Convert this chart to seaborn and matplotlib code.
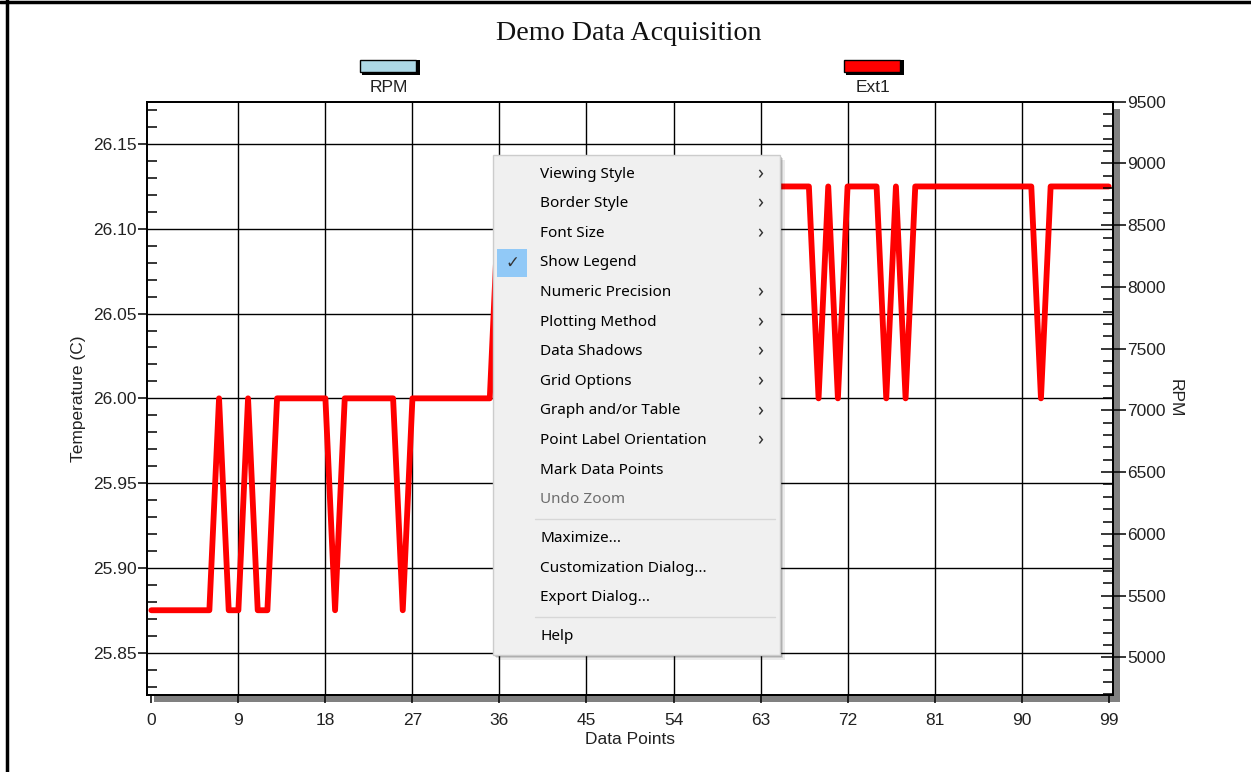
import matplotlib
matplotlib.use('Agg')
import matplotlib.pyplot as plt
import seaborn as sns
from matplotlib.patches import Rectangle
from matplotlib.lines import Line2D
from matplotlib.ticker import MultipleLocator

# === DATOS ===
puntos = list(range(100))
ext1 = [25.875, 25.875, 25.875, 25.875, 25.875, 25.875, 25.875, 26.0, 25.875, 25.875,
        26.0, 25.875, 25.875, 26.0, 26.0, 26.0, 26.0, 26.0, 26.0, 25.875,
        26.0, 26.0, 26.0, 26.0, 26.0, 26.0, 25.875, 26.0, 26.0, 26.0,
        26.0, 26.0, 26.0, 26.0, 26.0, 26.0, 26.125, 26.125, 26.125, 26.125,
        26.125, 26.125, 26.125, 26.125, 26.125, 26.125, 26.125, 26.125, 26.125, 26.125,
        26.125, 26.125, 26.125, 26.125, 26.125, 26.125, 26.125, 26.125, 26.125, 26.125,
        26.125, 26.125, 26.125, 26.125, 26.125, 26.125, 26.125, 26.125, 26.125, 26.0,
        26.125, 26.0, 26.125, 26.125, 26.125, 26.125, 26.0, 26.125, 26.0, 26.125,
        26.125, 26.125, 26.125, 26.125, 26.125, 26.125, 26.125, 26.125, 26.125, 26.125,
        26.125, 26.125, 26.0, 26.125, 26.125, 26.125, 26.125, 26.125, 26.125, 26.125]

xTicks = [0, 9, 18, 27, 36, 45, 54, 63, 72, 81, 90, 99]
tempTicks = [25.85, 25.90, 25.95, 26.00, 26.05, 26.10, 26.15]
rpmTicks = [5000, 5500, 6000, 6500, 7000, 7500, 8000, 8500, 9000, 9500]

series = ['RPM', 'Ext1']
coloresSeries = ['#ADD8E6', '#FF0000']

# menu contextual (texto, tiene submenu, habilitado)
menu = [('Viewing Style', True, True), ('Border Style', True, True), ('Font Size', True, True),
        ('Show Legend', False, True), ('Numeric Precision', True, True),
        ('Plotting Method', True, True), ('Data Shadows', True, True), ('Grid Options', True, True),
        ('Graph and/or Table', True, True), ('Point Label Orientation', True, True),
        ('Mark Data Points', False, True), ('Undo Zoom', False, False), ('-', False, True),
        ('Maximize...', False, True), ('Customization Dialog...', False, True),
        ('Export Dialog...', False, True), ('-', False, True), ('Help', False, True)]

# === FIGURA ===
sns.set_theme(style='white')
plt.rcParams['font.family'] = ['Liberation Sans', 'DejaVu Sans']

W, H = 1251, 772
fig = plt.figure(figsize=(W / 100, H / 100), dpi=100)
fig.patch.set_facecolor('white')

def fx(px):
    return px / W

def fy(py):
    return 1 - py / H

# sombra del area de grafico
fig.add_artist(Rectangle((fx(154), fy(702)), fx(1120) - fx(154), fy(109) - fy(702),
                         transform=fig.transFigure, facecolor='#808080', edgecolor='none', zorder=-1))

ax = fig.add_axes([fx(147), fy(695), fx(1113) - fx(147), fy(101.7) - fy(695)])
ax.set_facecolor('white')
sns.lineplot(x=puntos, y=ext1, ax=ax, color=coloresSeries[1], linewidth=4.2, zorder=3)

ax.set_xlim(-0.45, 99.45)
ax.set_ylim(25.825, 26.175)
ax.set_xticks(xTicks)
ax.set_yticks(tempTicks)
ax.set_yticklabels([f'{t:.2f}' for t in tempTicks])
ax.yaxis.set_minor_locator(MultipleLocator(0.01))
ax.grid(True, which='major', color='black', linewidth=1.0)
ax.xaxis.get_gridlines()[0].set_visible(False)
ax.xaxis.get_gridlines()[-1].set_visible(False)
for s in ax.spines.values():
    s.set_color('black')
    s.set_linewidth(1.3)
ax.tick_params(axis='y', which='major', direction='out', length=6.5, width=1.1, color='black',
               labelsize=12.5, pad=1, labelcolor='#222222')
ax.tick_params(axis='y', which='minor', direction='in', length=7, width=1.1, color='black', left=True)
ax.tick_params(axis='x', which='major', direction='out', length=6, width=1.1, color='black',
               labelsize=12.5, pad=7, labelcolor='#222222', bottom=True)
ax.set_xlabel('Data Points', fontsize=12.5, labelpad=3, color='#222222')
ax.set_ylabel('Temperature (C)', fontsize=12.5, labelpad=5, color='#222222')

ax2 = ax.twinx()
ax2.set_ylim(4695, 9500)
ax2.set_yticks(rpmTicks)
ax2.yaxis.set_minor_locator(MultipleLocator(100))
ax2.grid(False)
ax2.tick_params(axis='y', which='major', direction='inout', length=18, width=1.1, color='black',
                labelsize=12.5, pad=1, labelcolor='#222222', right=True)
ax2.tick_params(axis='y', which='minor', direction='in', length=7, width=1.1, color='black', right=True)
ax2.set_ylabel('RPM', fontsize=12.5, rotation=270, labelpad=12, color='#222222')
for s in ax2.spines.values():
    s.set_color('black')
    s.set_linewidth(1.3)

# titulo
fig.text(fx(629), fy(33), 'Demo Data Acquisition', ha='center', va='center',
         fontsize=20.2, family=['Liberation Serif', 'DejaVu Serif'], color='#111111')

# leyenda
for nombre, color, cx in zip(series, coloresSeries, [389, 873]):
    fig.add_artist(Rectangle((fx(cx - 27), fy(75)), fx(58), fy(60) - fy(75), transform=fig.transFigure,
                             facecolor='black', edgecolor='none'))
    fig.add_artist(Rectangle((fx(cx - 29), fy(72)), fx(56), fy(60) - fy(72), transform=fig.transFigure,
                             facecolor=color, edgecolor='black', linewidth=1.0))
    fig.text(fx(cx), fy(88), nombre, ha='center', va='center', fontsize=12.5, color='#222222')

# borde de la ventana
fig.add_artist(Line2D([0, 1], [fy(1.5), fy(1.5)], transform=fig.transFigure, color='black', linewidth=2.5))
fig.add_artist(Line2D([fx(6.5), fx(6.5)], [0, 1], transform=fig.transFigure, color='black', linewidth=2.5))

# menu contextual
mx0, my0, mx1, my1 = 493, 155, 780, 655
for off, alpha in [(5, 0.08), (3, 0.12), (1.5, 0.18)]:
    fig.add_artist(Rectangle((fx(mx0 + off), fy(my1 + off)), fx(mx1 - mx0), fy(my0) - fy(my1),
                             transform=fig.transFigure, facecolor='black', alpha=alpha,
                             edgecolor='none', zorder=10))
fig.add_artist(Rectangle((fx(mx0), fy(my1)), fx(mx1 - mx0), fy(my0) - fy(my1), transform=fig.transFigure,
                         facecolor='#F0F0F0', edgecolor='#CCCCCC', linewidth=1.0, zorder=11))
menuFont = ['Noto Sans', 'DejaVu Sans']
yItem = 174
for texto, sub, activo in menu:
    if texto == '-':
        fig.add_artist(Line2D([fx(535), fx(775)], [fy(yItem - 10), fy(yItem - 10)],
                              transform=fig.transFigure, color='#D7D7D7', linewidth=1.0, zorder=12))
        yItem += 9.2
        continue
    if texto == 'Show Legend':
        fig.add_artist(Rectangle((fx(497), fy(277)), fx(30), fy(249) - fy(277), transform=fig.transFigure,
                                 facecolor='#91C9F7', edgecolor='none', zorder=12))
        fig.text(fx(512), fy(yItem), '\u2713', ha='center', va='center', fontsize=12,
                 family=['DejaVu Sans'], color='#333333', zorder=13)
    fig.text(fx(540), fy(yItem), texto, ha='left', va='center', fontsize=11, family=menuFont,
             color='#000000' if activo else '#6D6D6D', zorder=13)
    if sub:
        fig.text(fx(760), fy(yItem), '\u203a', ha='center', va='center', fontsize=14, family=menuFont,
                 color='#333333', zorder=13)
    yItem += 29.6

plt.savefig('out.png', dpi=100)
